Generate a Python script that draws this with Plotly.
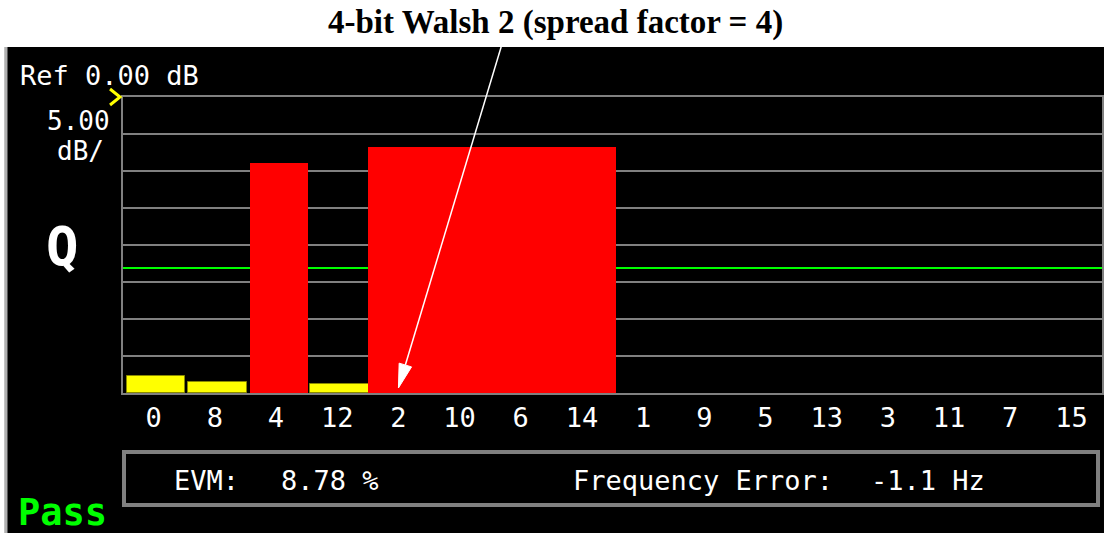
import plotly.graph_objects as go

# ---------------- data ----------------
code_order = ["0", "8", "4", "12", "2", "10", "6", "14",
              "1", "9", "5", "13", "3", "11", "7", "15"]

# inactive code channels (yellow), power in dB
inactive_codes = ["0", "8", "12"]
inactive_db = [-37.7, -38.5, -38.8]

# active code channels (red): first code slot, number of slots spanned, power in dB
active_codes = ["4", "2"]
active_span = [1, 4]
active_db = [-8.9, -6.8]

ref_level_db = 0.0
db_per_div = 5.0
n_div = 8
floor_db = ref_level_db - db_per_div * n_div
threshold_db = -23.1

title_text = "4-bit Walsh 2 (spread factor = 4)"
evm_text = "8.78 %"
freq_err_text = "-1.1 Hz"

# ---------------- layout helpers (pixel -> paper) ----------------
W, H = 1105, 533
L, R, T, B = 123, 1104, 97, 393


def px(x):
    return (x - L) / (R - L)


def py(y):
    return (B - y) / (B - T)


MONO = "DejaVu Sans Mono"
GRAY = "#808080"

slot = {c: i for i, c in enumerate(code_order)}

fig = go.Figure()

fig.add_trace(go.Bar(
    x=[slot[c] for c in inactive_codes],
    y=[v - floor_db for v in inactive_db],
    base=floor_db,
    width=[0.96] * len(inactive_codes),
    offset=[-0.44] * len(inactive_codes),
    marker=dict(color="#ffff00", line=dict(color="#8a8a00", width=1)),
    hoverinfo="skip",
))

fig.add_trace(go.Bar(
    x=[slot[c] + (s - 1) / 2 for c, s in zip(active_codes, active_span)],
    y=[v - floor_db for v in active_db],
    base=floor_db,
    width=[s + 0.05 if s > 1 else 0.95 for s in active_span],
    offset=[-(s / 2) if s > 1 else -0.43 for s in active_span],
    marker=dict(color="#ff0000", line=dict(width=0)),
    hoverinfo="skip",
))

shapes = []
# black instrument panel + gray left stripe
shapes.append(dict(type="rect", xref="paper", yref="paper",
                   x0=px(7), x1=px(1106), y0=py(47), y1=py(534),
                   fillcolor="#000000", line=dict(width=0), layer="below"))
shapes.append(dict(type="line", xref="paper", yref="paper",
                   x0=px(5.5), x1=px(5.5), y0=py(47), y1=py(534),
                   line=dict(color="#b0b0b0", width=3), layer="below"))
# threshold line
shapes.append(dict(type="line", xref="paper", yref="y",
                   x0=0, x1=1, y0=threshold_db, y1=threshold_db,
                   line=dict(color="#00ff00", width=2), layer="below"))
# reference level marker
shapes.append(dict(type="path", xref="paper", yref="paper",
                   path=f"M {px(110)},{py(89)} L {px(120)},{py(97)} L {px(110)},{py(105)}",
                   line=dict(color="#ffff00", width=3)))
# EVM box
shapes.append(dict(type="rect", xref="paper", yref="paper",
                   x0=px(124), x1=px(1100), y0=py(452), y1=py(505),
                   fillcolor="rgba(0,0,0,0)", line=dict(color=GRAY, width=4)))

# arrow (line + head)
tail = (504, 40)
tip = (399, 388)
dx, dy = tip[0] - tail[0], tip[1] - tail[1]
ln = (dx * dx + dy * dy) ** 0.5
ux, uy = dx / ln, dy / ln
hl, hw = 24, 6.5
bx, by = tip[0] - hl * ux, tip[1] - hl * uy
nx, ny = -uy, ux
shapes.append(dict(type="line", xref="paper", yref="paper",
                   x0=px(tail[0]), y0=py(tail[1]), x1=px(bx), y1=py(by),
                   line=dict(color="#ffffff", width=1.5)))
shapes.append(dict(type="path", xref="paper", yref="paper",
                   path=(f"M {px(tip[0])},{py(tip[1])} "
                         f"L {px(bx + hw * nx)},{py(by + hw * ny)} "
                         f"L {px(bx - hw * nx)},{py(by - hw * ny)} Z"),
                   fillcolor="#ffffff", line=dict(color="#ffffff", width=1)))

ann = []


def text(x, y, s, size=27, color="white", family=MONO, xanchor="left", bold=False):
    ann.append(dict(xref="paper", yref="paper", x=px(x), y=py(y),
                    text=f"<b>{s}</b>" if bold else s, showarrow=False,
                    xanchor=xanchor, yanchor="middle",
                    font=dict(size=size, color=color, family=family)))


text(556, 22, title_text, size=33, color="black", family="Liberation Serif",
     xanchor="center", bold=True)
text(18, 75, f"Ref {ref_level_db:.2f} dB")
text(112, 121, f"{db_per_div:.2f}", size=26, xanchor="right")
text(106, 151, "dB/", size=26, xanchor="right")
text(62, 246, "Q", size=54, xanchor="center", bold=True)
text(172, 480, "EVM:")
text(279, 480, evm_text)
text(572, 480, "Frequency Error:")
text(871, 480, freq_err_text)
text(62, 512, "Pass", size=37, color="#00ff00", xanchor="center", bold=True)

fig.update_layout(
    width=W, height=H,
    margin=dict(l=L, r=W - R, t=T, b=H - B, pad=0),
    paper_bgcolor="white",
    plot_bgcolor="black",
    barmode="overlay",
    bargap=0,
    showlegend=False,
    hovermode=False,
    shapes=shapes,
    annotations=ann,
    xaxis=dict(range=[-0.5, len(code_order) - 0.5],
               tickmode="array",
               tickvals=list(range(len(code_order))),
               ticktext=code_order,
               tickfont=dict(family=MONO, size=27, color="white"),
               ticks="", showgrid=False, zeroline=False,
               showline=True, linecolor=GRAY, linewidth=2, mirror=True,
               fixedrange=True),
    yaxis=dict(range=[floor_db, ref_level_db],
               tick0=ref_level_db, dtick=db_per_div,
               showticklabels=False, ticks="",
               showgrid=True, gridcolor=GRAY, gridwidth=2,
               zeroline=False,
               showline=True, linecolor=GRAY, linewidth=2, mirror=True,
               fixedrange=True),
)

fig.write_html("out.html", config={"displayModeBar": False},
               post_script="document.body.style.margin='0';document.body.style.overflow='hidden';")
